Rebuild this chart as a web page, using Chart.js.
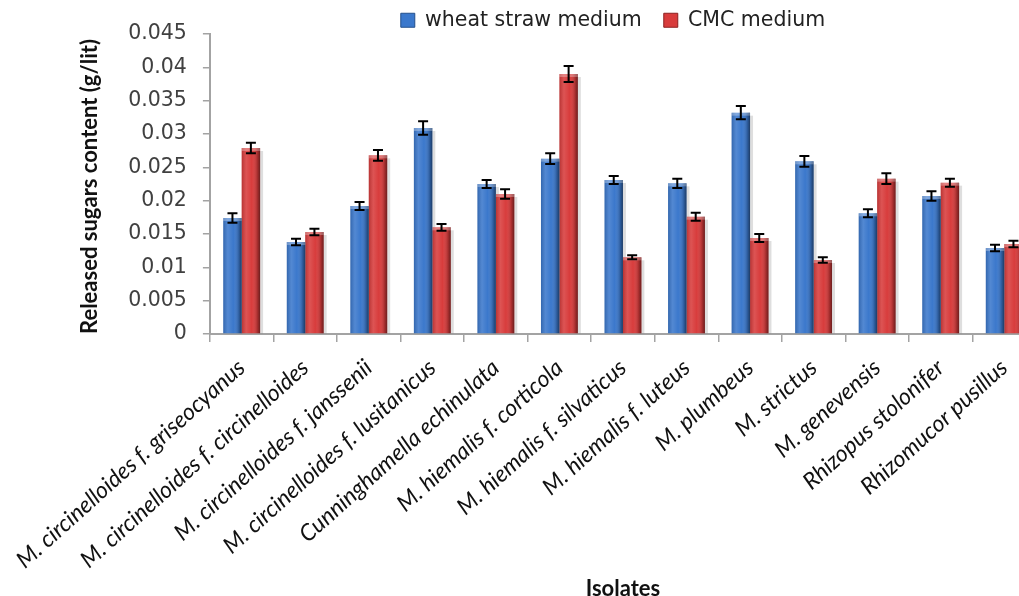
<!DOCTYPE html>
<html>
<head>
<meta charset="utf-8">
<script src="https://cdn.jsdelivr.net/npm/chart.js@4.4.0/dist/chart.umd.min.js"></script>
<style>
  html, body { margin: 0; padding: 0; background: #fff; overflow: hidden; }
  #wrap { position: absolute; left: 0; top: 0; width: 1040px; height: 596px; }
</style>
</head>
<body>
<div id="wrap"><canvas id="chart" width="1040" height="596"></canvas></div>
<script>
/* ---------- data ---------- */
const isolates = [
  'M. circinelloides f. griseocyanus',
  'M. circinelloides f. circinelloides',
  'M. circinelloides f. janssenii',
  'M. circinelloides f. lusitanicus',
  'Cunninghamella echinulata',
  'M. hiemalis f. corticola',
  'M. hiemalis f. silvaticus',
  'M. hiemalis f. luteus',
  'M. plumbeus',
  'M. strictus',
  'M. genevensis',
  'Rhizopus stolonifer',
  'Rhizomucor pusillus'
];
const wheatStraw    = [0.0174, 0.0138, 0.0192, 0.0309, 0.0225, 0.0263, 0.0231, 0.0226, 0.0332, 0.0259, 0.0181, 0.0207, 0.0129];
const wheatStrawErr = [0.0007, 0.0005, 0.0006, 0.0010, 0.0006, 0.0008, 0.0006, 0.0007, 0.0010, 0.0008, 0.0006, 0.0007, 0.0005];
const cmc           = [0.0279, 0.0153, 0.0268, 0.0160, 0.0210, 0.0390, 0.0115, 0.0176, 0.0144, 0.0111, 0.0233, 0.0227, 0.0135];
const cmcErr        = [0.0008, 0.0005, 0.0008, 0.0005, 0.0007, 0.0012, 0.0003, 0.0006, 0.0006, 0.0004, 0.0008, 0.0006, 0.0005];
const yStep = 0.005;
const yTickLabels = ['0', '0.005', '0.01', '0.015', '0.02', '0.025', '0.03', '0.035', '0.04', '0.045'];

const axisGrey = '#a3a3a3';

/* ---------- plugins ---------- */

// soft drop shadow behind each bar
const barShadow = {
  id: 'barShadow',
  beforeDatasetsDraw(chart) {
    const ctx = chart.ctx;
    ctx.save();
    ctx.fillStyle = 'rgba(0,0,0,0.13)';
    chart.data.datasets.forEach((ds, di) => {
      chart.getDatasetMeta(di).data.forEach(bar => {
        ctx.fillRect(bar.x - bar.width / 2 + 3, bar.y + 3, bar.width, bar.base - bar.y - 3);
      });
    });
    ctx.restore();
  }
};

// rounded "3D" look on top of the flat bars
const barShading = {
  id: 'barShading',
  afterDatasetsDraw(chart) {
    const ctx = chart.ctx;
    chart.data.datasets.forEach((ds, di) => {
      chart.getDatasetMeta(di).data.forEach(bar => {
        const left = bar.x - bar.width / 2;
        const h = bar.base - bar.y;
        const g = ctx.createLinearGradient(left, 0, left + bar.width, 0);
        g.addColorStop(0, 'rgba(0,0,0,0.15)');
        g.addColorStop(0.25, 'rgba(255,255,255,0.12)');
        g.addColorStop(0.55, 'rgba(255,255,255,0)');
        g.addColorStop(0.85, 'rgba(0,0,0,0.22)');
        g.addColorStop(1, 'rgba(0,0,0,0.5)');
        ctx.save();
        ctx.fillStyle = g;
        ctx.fillRect(left, bar.y, bar.width, h);
        ctx.fillStyle = 'rgba(255,255,255,0.28)';
        ctx.fillRect(left, bar.y, bar.width, 3);
        ctx.restore();
      });
    });
  }
};

// +/- error bars from dataset.errors
const errorBars = {
  id: 'errorBars',
  afterDatasetsDraw(chart) {
    const ctx = chart.ctx;
    const y = chart.scales.y;
    chart.data.datasets.forEach((ds, di) => {
      chart.getDatasetMeta(di).data.forEach((bar, i) => {
        const hi = y.getPixelForValue(ds.data[i] + ds.errors[i]);
        const lo = y.getPixelForValue(ds.data[i] - ds.errors[i]);
        const cap = 5;
        ctx.save();
        ctx.strokeStyle = '#000';
        ctx.lineWidth = 2;
        ctx.beginPath();
        ctx.moveTo(bar.x, hi); ctx.lineTo(bar.x, lo);
        ctx.moveTo(bar.x - cap, hi); ctx.lineTo(bar.x + cap, hi);
        ctx.moveTo(bar.x - cap, lo); ctx.lineTo(bar.x + cap, lo);
        ctx.stroke();
        ctx.restore();
      });
    });
  }
};

// centre the legend over the plot area instead of the whole canvas
const legendOverPlot = {
  id: 'legendOverPlot',
  beforeDraw(chart) {
    const lg = chart.legend;
    const area = chart.chartArea;
    lg.left = area.left;
    lg.right = area.right - 20;
    lg.top = -12;
  }
};

/* ---------- chart ---------- */
new Chart(document.getElementById('chart'), {
  type: 'bar',
  data: {
    labels: isolates,
    datasets: [
      {
        label: 'wheat straw medium',
        data: wheatStraw,
        errors: wheatStrawErr,
        backgroundColor: '#3b78cc',
        borderColor: '#24508c',
        borderWidth: 0
      },
      {
        label: 'CMC medium',
        data: cmc,
        errors: cmcErr,
        backgroundColor: '#d83c3c',
        borderColor: '#8c2020',
        borderWidth: 0
      }
    ]
  },
  options: {
    responsive: false,
    animation: false,
    devicePixelRatio: 1,
    categoryPercentage: 0.58,
    barPercentage: 1.0,
    layout: { padding: { left: 0, right: 4, top: 0, bottom: 0 } },
    plugins: {
      tooltip: { enabled: false },
      legend: {
        position: 'top',
        maxHeight: 34,
        labels: {
          boxWidth: 14,
          boxHeight: 14,
          padding: 22,
          color: '#222',
          font: { family: 'DejaVu Sans', size: 20.5 },
          generateLabels(chart) {
            return chart.data.datasets.map((ds, i) => ({
              text: ds.label,
              fillStyle: ds.backgroundColor,
              strokeStyle: ds.borderColor,
              lineWidth: 1,
              fontColor: '#222',
              datasetIndex: i
            }));
          }
        }
      }
    },
    scales: {
      x: {
        grid: { display: true, drawOnChartArea: false, offset: true, tickLength: 8, color: axisGrey, lineWidth: 1.5 },
        border: { display: true, color: axisGrey, width: 2 },
        ticks: {
          autoSkip: false,
          minRotation: 42,
          maxRotation: 42,
          padding: 12,
          color: '#111',
          font: { family: 'Lato', style: 'italic', size: 23 }
        },
        title: {
          display: true,
          text: 'Isolates',
          color: '#111',
          font: { family: 'Lato', weight: 'bold', size: 22 },
          padding: { top: 0, bottom: -6 }
        },
        afterFit(scale) { scale.height = 262; }
      },
      y: {
        min: 0,
        max: 0.045,
        ticks: {
          stepSize: yStep,
          padding: 16,
          color: '#404040',
          font: { family: 'DejaVu Sans', size: 20.5 },
          callback: v => yTickLabels[Math.round(v / yStep)]
        },
        grid: { display: true, drawOnChartArea: false, tickLength: 7, color: axisGrey, lineWidth: 1.5 },
        border: { display: true, color: axisGrey, width: 2 },
        title: {
          display: true,
          align: 'start',
          text: 'Released sugars content (g/lit)',
          color: '#111',
          font: { family: 'Lato', weight: 'bold', size: 22 },
          padding: { top: 76, bottom: 0 }
        },
        afterFit(scale) { scale.width = 209; }
      }
    }
  },
  plugins: [barShadow, barShading, errorBars, legendOverPlot]
});
</script>
</body>
</html>
